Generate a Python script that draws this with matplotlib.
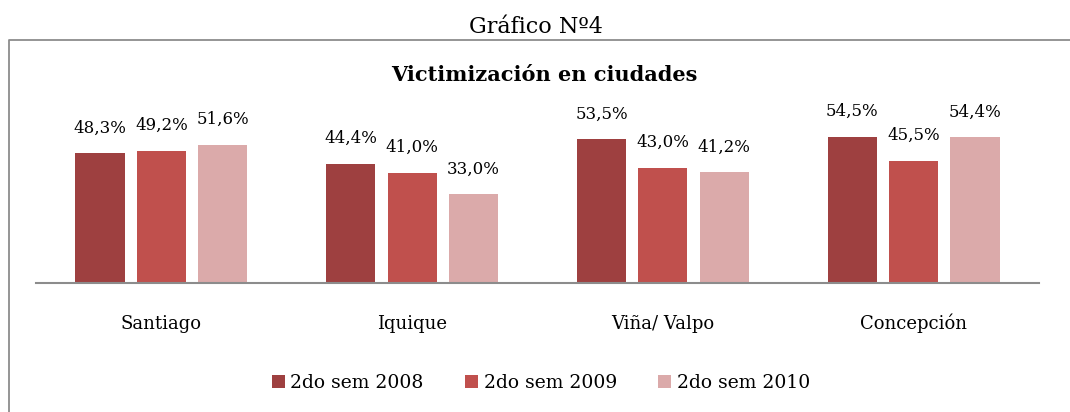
import matplotlib.pyplot as plt
from matplotlib.lines import Line2D
import numpy as np

ciudades = ["Santiago", "Iquique", "Viña/ Valpo", "Concepción"]
series = ["2do sem 2008", "2do sem 2009", "2do sem 2010"]
sem_2008 = [48.3, 44.4, 53.5, 54.5]
sem_2009 = [49.2, 41.0, 43.0, 45.5]
sem_2010 = [51.6, 33.0, 41.2, 54.4]
colores = ["#9E4040", "#C0504D", "#DBAAAA"]

plt.rcParams["font.family"] = ["DejaVu Serif"]

fig = plt.figure(figsize=(10.7, 4.12), dpi=100)
W, H = 1070, 412

# marco del grafico (solo borde izquierdo y superior visibles)
fig.lines.append(Line2D([9 / W, 9 / W, 1.0], [0.0, 1 - 40 / H, 1 - 40 / H],
                        transform=fig.transFigure, color="#8c8c8c", linewidth=1.3))
fig.text(536 / W, 1 - 27 / H, "Gráfico Nº4", ha="center", va="center", fontsize=16)
fig.text(544 / W, 1 - 75 / H, "Victimización en ciudades", ha="center", va="center",
         fontsize=15, fontweight="bold")

ax = fig.add_axes([36 / W, 129 / H, (1039 - 36) / W, 161 / H])
x = np.arange(len(ciudades))
ancho = 0.196
paso = 0.245
for i, (vals, nombre) in enumerate(zip([sem_2008, sem_2009, sem_2010], series)):
    barras = ax.bar(x + (i - 1) * paso, vals, ancho, color=colores[i], label=nombre)
    for b, v in zip(barras, vals):
        ax.annotate(("%.1f%%" % v).replace(".", ","),
                    (b.get_x() + b.get_width() / 2, v),
                    xytext=(0, 12), textcoords="offset points",
                    ha="center", va="bottom", fontsize=12)

ax.set_xlim(-0.5, 3.5)
ax.set_ylim(0, 60)
for s in ["top", "right", "left"]:
    ax.spines[s].set_visible(False)
ax.spines["bottom"].set_color("#8c8c8c")
ax.spines["bottom"].set_linewidth(1.5)
ax.set_yticks([])
ax.set_xticks(x)
ax.set_xticklabels(ciudades, fontsize=13)
ax.tick_params(axis="x", length=0, pad=33)
for lbl in ax.get_xticklabels():
    lbl.set_verticalalignment("baseline")

fig.legend(loc="center", bbox_to_anchor=(541 / W, 1 - 383 / H), ncol=3, frameon=False,
           fontsize=13.5, handlelength=0.7, handleheight=0.7, handletextpad=0.3,
           columnspacing=2.2)

fig.savefig("out.png", dpi=100)
